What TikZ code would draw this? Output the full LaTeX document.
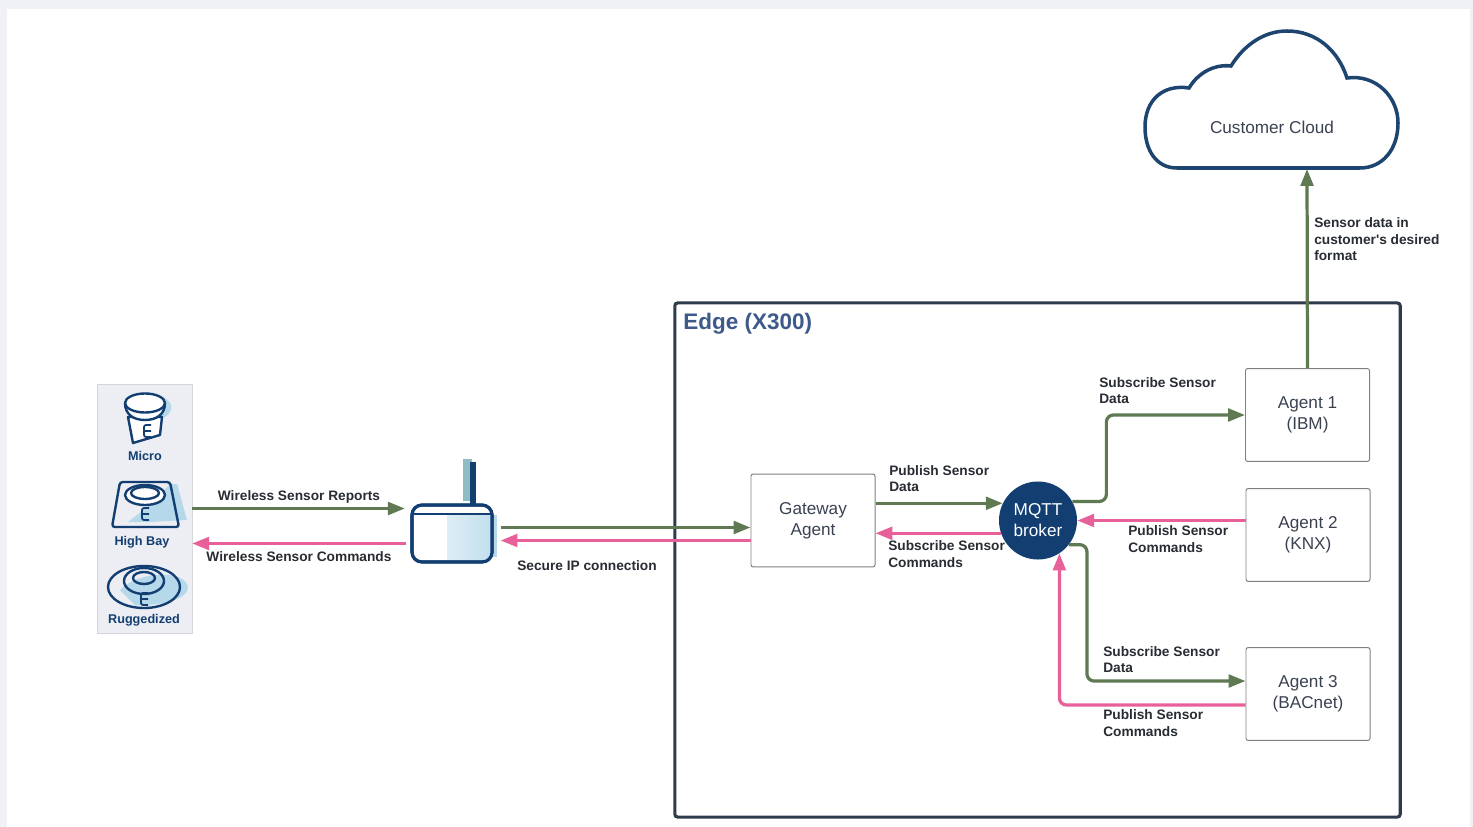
\documentclass[tikz,border=0pt]{standalone}
\usepackage{fontspec}
\setmainfont{Liberation Sans}
\usetikzlibrary{arrows.meta}
\definecolor{page}{HTML}{EFF1F4}
\definecolor{panelbg}{HTML}{ECEEF3}
\definecolor{data}{HTML}{5F7A52}
\definecolor{cmd}{HTML}{E8609A}
\definecolor{navy}{HTML}{123E72}
\definecolor{cloudline}{HTML}{1E4470}
\definecolor{frame}{HTML}{2F3B4D}
\definecolor{title}{HTML}{3D5A8A}
\definecolor{ink}{HTML}{282C33}
\definecolor{body}{HTML}{3A4252}
\definecolor{sky}{HTML}{B5D8EA}
\definecolor{teal}{HTML}{8FBDC4}
\tikzset{agent/.style={draw=gray,line width=0.7pt,fill=white,rounded corners=1.5pt,align=center,text=body,font=\fontsize{12.2}{15}\selectfont,minimum width=3.1cm,minimum height=2.32cm}}
\tikzset{lbl/.style={text=ink,font=\fontsize{9.75}{11.7}\selectfont\bfseries,align=left,inner sep=0pt}}
\tikzset{dataline/.style={draw=data,line width=2.3pt,rounded corners=5pt,-{Triangle[length=12pt,width=9pt]}}}
\tikzset{cmdline/.style={draw=cmd,line width=2.3pt,rounded corners=5pt,-{Triangle[length=12pt,width=9pt]}}}
\tikzset{icon/.style={draw=navy,line width=1.7pt,line join=round}}
\tikzset{iconlbl/.style={text=navy,font=\fontsize{9}{11}\selectfont\bfseries,inner sep=0pt}}
\tikzset{elogo/.pic={\draw[navy,line width=1.3pt,rounded corners=1.5pt] (4,-6) -- (-3,-6) -- (-3,6) -- (4,6) (-3,0) -- (4,0);}}

\begin{document}
\begin{tikzpicture}[x=0.025cm,y=-0.025cm]
    \useasboundingbox (0,0) rectangle (1473,827);
    \fill[page] (0,0) rectangle (1473,827);
    \fill[white] (7,9) rectangle (1470,827);

    % cloud
    \draw[cloudline,line width=2.5pt,fill=white] (1177,168)
    .. controls (1156,168) and (1145,150) .. (1145,127)
    .. controls (1145,100) and (1163,84) .. (1189,88)
    .. controls (1198,73) and (1214,64) .. (1231,66)
    .. controls (1244,45) and (1264,31) .. (1287,31)
    .. controls (1316,31) and (1338,50) .. (1347,78)
    .. controls (1376,74) and (1398,97) .. (1398,123)
    .. controls (1398,150) and (1382,168) .. (1360,168)
    -- cycle;
    \node[text=body,font=\fontsize{12.2}{15}\selectfont] (cloud) at (1272,127.5) {Customer Cloud};
    \coordinate (cloudin) at (1307,169);

    % edge box
    \node[draw=frame,line width=2.2pt,rounded corners=2pt,minimum width=18.13cm,minimum height=12.85cm] (edge) at (1037.5,560) {};
    \node[text=title,font=\fontsize{16}{19}\selectfont\bfseries,anchor=west,inner sep=0pt] (edgetitle) at (683,323.5) {Edge (X300)};

    % sensors
    \node[fill=panelbg,draw=panelbg!90!black,line width=0.3pt,minimum width=2.375cm,minimum height=6.225cm] (sensors) at (144.5,508.5) {};
    \fill[sky] (150,396) .. controls (170,394) and (178,408) .. (165,417) -- (150,417) -- cycle;
    \draw[icon,fill=white] (128,417) -- (133,443) -- (160,435) -- (162,417) -- cycle;
    \draw[icon,fill=white] (125,403) .. controls (125,414) and (133,420) .. (145,420) .. controls (157,420) and (165,414) .. (165,403);
    \draw[icon,fill=white] (145,403) ellipse (20 and 9.5);
    \pic at (147,431) {elogo};
    \node[iconlbl] (micro) at (145,456) {Micro};

    \fill[sky] (170,484) -- (177,484) -- (187,520) -- (150,522) -- (128,522) -- (150,505) -- cycle;
    \draw[icon,rounded corners=2pt] (120,482) -- (170,482) -- (179,527) -- (112,527) -- cycle;
    \draw[icon,fill=white] (145,495) ellipse (20 and 10);
    \draw[icon] (145,493) ellipse (14 and 6);
    \pic at (145,514) {elogo};
    \node[iconlbl] (highbay) at (142,542) {High Bay};

    \fill[sky] (120,590) .. controls (140,570) and (185,570) .. (188,587) .. controls (188,600) and (160,606) .. (135,605) -- cycle;
    \draw[icon] (144,587) ellipse (36 and 21);
    \draw[icon] (144,581) ellipse (20 and 13);
    \draw[icon] (144,578) ellipse (11 and 6);
    \pic at (144,599) {elogo};
    \node[iconlbl] (rugged) at (144,620) {Ruggedized};

    % router
    \fill[teal] (463,459) rectangle (472,501);
    \fill[sky] (492,515) -- (497,515) -- (497,557) -- (492,557) -- cycle;
    \node[draw=navy,line width=2.2pt,rounded corners=7pt,fill=white,minimum width=2cm,minimum height=1.42cm] (router) at (452,533.5) {};
    \begin{scope}
    \clip (447,515) rectangle (491,559);
    \fill[left color=sky!25,right color=sky] (425,515) rectangle (510,559);
    \end{scope}
    \draw[navy,line width=1.4pt] (414,514) -- (490,514);
    \draw[navy,line width=3.6pt] (473,462) -- (router.north -| 473,0);
    \draw[navy,line width=2.2pt,rounded corners=7pt] (412,505) rectangle (492,562);

    % inner nodes
    \node[agent] (gw) at (813,520.5) {Gateway\\Agent};
    \node[circle,fill=navy,text=white,align=center,inner sep=0pt,minimum size=1.95cm,font=\fontsize{12.2}{15}\selectfont] (mqtt) at (1038,520.5) {MQTT\\broker};
    \node[agent] (agent1) at (1307.5,415) {Agent 1\\(IBM)};
    \node[agent] (agent2) at (1308,535) {Agent 2\\(KNX)};
    \node[agent] (agent3) at (1308,694) {Agent 3\\(BACnet)};

    % connectors
    \draw[dataline] (sensors.east |- 0,508.5) -- ([xshift=-4pt]router.west |- 0,508.5);
    \draw[cmdline] ([xshift=-3pt]router.west |- 0,543.5) -- (sensors.east |- 0,543.5);
    \draw[dataline] ([xshift=5pt]router.east |- 0,527.5) -- (gw.west |- 0,527.5);
    \draw[cmdline] (gw.west |- 0,540.5) -- ([xshift=5pt]router.east |- 0,540.5);
    \draw[dataline] (gw.east |- mqtt.154) -- (mqtt.154);
    \draw[cmdline] (mqtt.199) -- (gw.east |- mqtt.199);
    \draw[dataline] (mqtt.29) -- ++(34,0) |- (agent1.west);
    \draw[cmdline] (agent2.west |- mqtt.east) -- (mqtt.east);
    \draw[dataline] (mqtt.-38) -- ++(18,0) |- (agent3.west |- 0,681);
    \draw[cmdline] (agent3.west |- 0,705) -| (mqtt.-57);
    \draw[dataline] (agent1.north) -- (cloudin);

    % labels
    \node[lbl] (wsr) at (299,497) {Wireless Sensor Reports};
    \node[lbl] (wsc) at (299,557) {Wireless Sensor Commands};
    \node[lbl] (ipc) at (587,565.5) {Secure IP connection};
    \node[lbl,anchor=west] (pubdata) at (889,478.5) {Publish Sensor\\Data};
    \node[lbl,anchor=west] (subcmd) at (888,554) {Subscribe Sensor\\Commands};
    \node[lbl,anchor=west] (subone) at (1099,390.5) {Subscribe Sensor\\Data};
    \node[lbl,anchor=west] (pubtwo) at (1128,539) {Publish Sensor\\Commands};
    \node[lbl,anchor=west] (subthree) at (1103,659.5) {Subscribe Sensor\\Data};
    \node[lbl,anchor=west] (pubthree) at (1103,723) {Publish Sensor\\Commands};
    \node[lbl,anchor=west] (format) at (1314,239.5) {Sensor data in\\customer\textquotesingle s desired\\format};
\end{tikzpicture}
\end{document}
